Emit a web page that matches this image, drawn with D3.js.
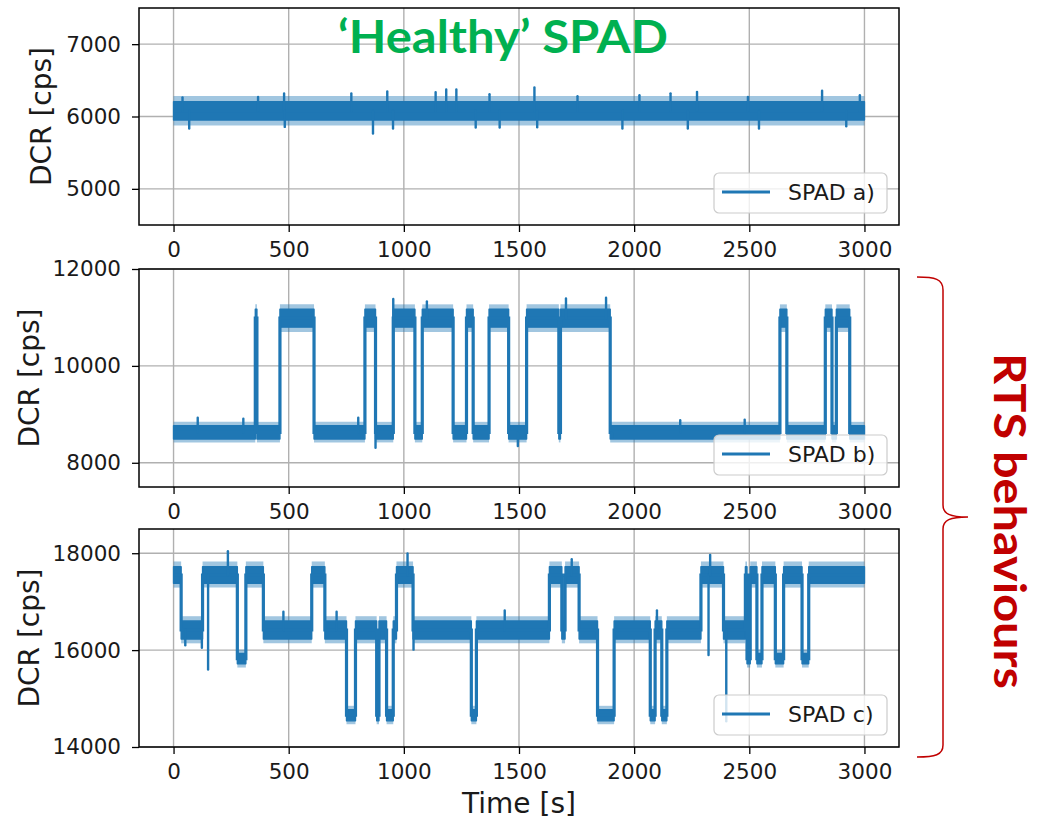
<!DOCTYPE html>
<html><head><meta charset="utf-8">
<script src="https://cdn.jsdelivr.net/npm/d3@7"></script>
<style>body{margin:0;background:#fff} svg{display:block}</style>
</head><body><svg id="c" width="1038" height="822"></svg>
<script>
// ---------- data ----------
const timeTicks = [0, 500, 1000, 1500, 2000, 2500, 3000];
const seriesNames = ["SPAD a)", "SPAD b)", "SPAD c)"];
const yDomainA = [4500, 7500];
const yDomainB = [7500, 12000];
const yDomainC = [14000, 18500];
const yTicksA = [5000, 6000, 7000];
const yTicksB = [8000, 10000, 12000];
const yTicksC = [14000, 16000, 18000];

// dense core [low, high] of the trace for each state (cps)
const levelsA = [[5950, 6205]];
const levelsB = [[8490, 8765], [10800, 11170]];
const levelsC = [[14540, 14770], [15720, 15930], [16230, 16600], [17380, 17720]];
// outer reach of the frequent noise excursions for each state (cps)
const outerA = [[5875, 6285]];
const outerB = [[8420, 8845], [10700, 11270]];
const outerC = [[14470, 14850], [15640, 16010], [16140, 16700], [17290, 17830]];

// states: [start s, end s, level index]
const statesA = [[0, 3000, 0]];
const statesB = [
  [0, 355, 0], [355, 362, 1], [362, 462, 0], [462, 610, 1], [610, 831, 0], [831, 877, 1],
  [877, 954, 0], [954, 1048, 1], [1048, 1080, 0], [1080, 1214, 1], [1214, 1272, 0],
  [1272, 1301, 1], [1301, 1370, 0], [1370, 1455, 1], [1455, 1533, 0], [1533, 1673, 1],
  [1673, 1680, 0], [1680, 1896, 1], [1896, 2633, 0], [2633, 2663, 1], [2663, 2830, 0],
  [2830, 2859, 1], [2859, 2878, 0], [2878, 2936, 1], [2936, 3000, 0]
];
const statesC = [
  [0, 33, 3], [33, 126, 2], [126, 277, 3], [277, 314, 1], [314, 390, 3], [390, 600, 2],
  [600, 657, 3], [657, 751, 2], [751, 790, 0], [790, 882, 2], [882, 892, 0], [892, 925, 2],
  [925, 954, 0], [954, 968, 2], [968, 1040, 3], [1040, 1293, 2], [1293, 1315, 0],
  [1315, 1632, 2], [1632, 1686, 3], [1686, 1700, 2], [1700, 1761, 3], [1761, 1841, 2],
  [1841, 1913, 0], [1913, 2070, 2], [2070, 2091, 0], [2091, 2120, 2], [2120, 2142, 0],
  [2142, 2290, 2], [2290, 2388, 3], [2388, 2483, 2], [2483, 2490, 3], [2490, 2504, 1],
  [2504, 2533, 3], [2533, 2555, 1], [2555, 2613, 3], [2613, 2649, 1], [2649, 2729, 3],
  [2729, 2758, 1], [2758, 3000, 3]
];

// isolated excursions of the trace: [time s, value cps]
const spikesA = [
  [39, 6263], [68, 5834], [367, 6271], [480, 6318], [483, 5856], [772, 6318], [866, 5765],
  [928, 6346], [953, 5834], [1138, 6337], [1184, 6374], [1228, 6374], [1312, 5848],
  [1372, 6309], [1416, 5848], [1567, 6402], [1579, 5850], [1754, 6281], [1949, 5834],
  [2023, 6295], [2158, 6320], [2233, 5834], [2273, 6341], [2494, 6271], [2542, 5834],
  [2816, 6355], [2921, 5866], [2980, 6295]
];
const spikesB = [
  [105, 8931], [303, 8910], [802, 8931], [877, 8310], [954, 11380], [1495, 8345],
  [1704, 11393], [1878, 11407], [1903, 8517], [2200, 8880], [2480, 8890], [1100, 11330]
];
const spikesC = [
  [51, 16100], [123, 16048], [150, 15600], [236, 18040], [477, 16793], [708, 16793],
  [1016, 17993], [1042, 16010], [1438, 16820], [1729, 17876], [2099, 16820],
  [2323, 15900], [2330, 17966], [2400, 14530]
];

// ---------- drawing ----------
const svg = d3.select("#c");
const blue = "#1f77b4";
const x = d3.scaleLinear().domain([-150, 3150]).range([139, 899]);
const frames = [[8, 225], [269, 487], [529, 747]];
const yLabelX = [51, 38.5, 38.5];
const panels = [
  {dom: yDomainA, ticks: yTicksA, levels: levelsA, outer: outerA, states: statesA, spikes: spikesA},
  {dom: yDomainB, ticks: yTicksB, levels: levelsB, outer: outerB, states: statesB, spikes: spikesB},
  {dom: yDomainC, ticks: yTicksC, levels: levelsC, outer: outerC, states: statesC, spikes: spikesC}
];

panels.forEach((p, i) => {
  const [top, bottom] = frames[i];
  const y = d3.scaleLinear().domain(p.dom).range([bottom, top]);
  const g = svg.append("g");

  // grid
  g.selectAll(".gx").data(timeTicks).join("line")
    .attr("x1", d => x(d)).attr("x2", d => x(d)).attr("y1", top).attr("y2", bottom)
    .attr("stroke", "#b0b0b0").attr("stroke-width", 1.4);
  g.selectAll(".gy").data(p.ticks).join("line")
    .attr("x1", 139).attr("x2", 899).attr("y1", d => y(d)).attr("y2", d => y(d))
    .attr("stroke", "#b0b0b0").attr("stroke-width", 1.4);

  svg.append("clipPath").attr("id", "clip" + i).append("rect")
    .attr("x", 139).attr("y", top).attr("width", 760).attr("height", bottom - top);
  const dg = g.append("g").attr("clip-path", `url(#clip${i})`);

  const area = d3.area().x(d => x(d[0])).y0(d => y(d[1])).y1(d => y(d[2]));
  const mid = k => (p.levels[k][0] + p.levels[k][1]) / 2;
  dg.selectAll(".fringe").data(p.states).join("path")
    .attr("d", s => area([[s[0], ...p.outer[s[2]]], [s[1], ...p.outer[s[2]]]]))
    .attr("fill", blue).attr("fill-opacity", 0.42);
  dg.selectAll(".band").data(p.states).join("path")
    .attr("d", s => area([[s[0], ...p.levels[s[2]]], [s[1], ...p.levels[s[2]]]]))
    .attr("fill", blue).attr("stroke", blue).attr("stroke-width", 1.4).attr("stroke-linejoin", "round");
  const stepPts = p.states.flatMap(s => [[s[0], mid(s[2])], [s[1], mid(s[2])]]);
  dg.append("path").datum(stepPts)
    .attr("d", d3.line().x(d => x(d[0])).y(d => y(d[1])))
    .attr("fill", "none").attr("stroke", blue).attr("stroke-width", 3.2);
  dg.selectAll(".spk").data(p.spikes).join("line")
    .attr("x1", d => x(d[0])).attr("x2", d => x(d[0]))
    .attr("y1", d => { const s = p.states.find(s => d[0] >= s[0] && d[0] <= s[1]); return y(mid(s[2])); })
    .attr("y2", d => y(d[1]))
    .attr("stroke", blue).attr("stroke-width", 2.4).attr("stroke-linecap", "round");

  // axes
  const ax = g.append("g").attr("transform", `translate(0,${bottom})`)
    .call(d3.axisBottom(x).tickValues(timeTicks).tickSize(7).tickPadding(10).tickFormat(d3.format("d")));
  const ay = g.append("g").attr("transform", "translate(139,0)")
    .call(d3.axisLeft(y).tickValues(p.ticks).tickSize(7).tickPadding(11).tickFormat(d3.format("d")));
  [ax, ay].forEach(a => {
    a.select(".domain").remove();
    a.selectAll("line").attr("stroke", "#000").attr("stroke-width", 1.3);
    a.selectAll("text").attr("font-family", "DejaVu Sans").attr("font-size", 21.5).attr("fill", "#1a1a1a");
  });

  g.append("rect").attr("x", 139).attr("y", top).attr("width", 760).attr("height", bottom - top)
    .attr("fill", "none").attr("stroke", "#000").attr("stroke-width", 1.5);

  // legend
  const lg = g.append("g");
  lg.append("rect").attr("x", 714).attr("y", bottom - 52).attr("width", 173).attr("height", 40)
    .attr("rx", 5).attr("fill", "#fff").attr("fill-opacity", 0.8)
    .attr("stroke", "#cccccc").attr("stroke-width", 1.2);
  lg.append("line").attr("x1", 722).attr("x2", 770).attr("y1", bottom - 33).attr("y2", bottom - 33)
    .attr("stroke", blue).attr("stroke-width", 3);
  lg.append("text").attr("x", 788).attr("y", bottom - 33).attr("dy", "0.36em")
    .attr("font-family", "DejaVu Sans").attr("font-size", 22).attr("fill", "#1a1a1a")
    .text(seriesNames[i]);

  // y label
  g.append("text").attr("transform", `translate(${yLabelX[i]},${(top + bottom) / 2}) rotate(-90)`)
    .attr("text-anchor", "middle").attr("font-family", "DejaVu Sans").attr("font-size", 28)
    .attr("fill", "#1a1a1a").text("DCR [cps]");
});

svg.append("text").attr("x", 519).attr("y", 813).attr("text-anchor", "middle")
  .attr("font-family", "DejaVu Sans").attr("font-size", 28).attr("fill", "#1a1a1a").text("Time [s]");

svg.append("text").attr("x", 503).attr("y", 53).attr("text-anchor", "middle")
  .attr("font-family", "Lato").attr("font-weight", 700).attr("font-size", 46)
  .attr("textLength", 330).attr("lengthAdjust", "spacingAndGlyphs")
  .attr("fill", "#00b050").text("\u2018Healthy\u2019 SPAD");

svg.append("text").attr("transform", "translate(994,521) rotate(90)").attr("text-anchor", "middle")
  .attr("font-family", "Lato").attr("font-weight", 700).attr("font-size", 44)
  .attr("textLength", 336).attr("lengthAdjust", "spacingAndGlyphs")
  .attr("fill", "#c00000").text("RTS behaviours");

svg.append("path")
  .attr("d", "M917,277 C935,277 943,279 943,290 L943,505 C943,514 950,517 968,517 C950,517 943,520 943,529 L943,745 C943,755 935,757 917,757")
  .attr("fill", "none").attr("stroke", "#c00000").attr("stroke-width", 1.5);
</script></body></html>
